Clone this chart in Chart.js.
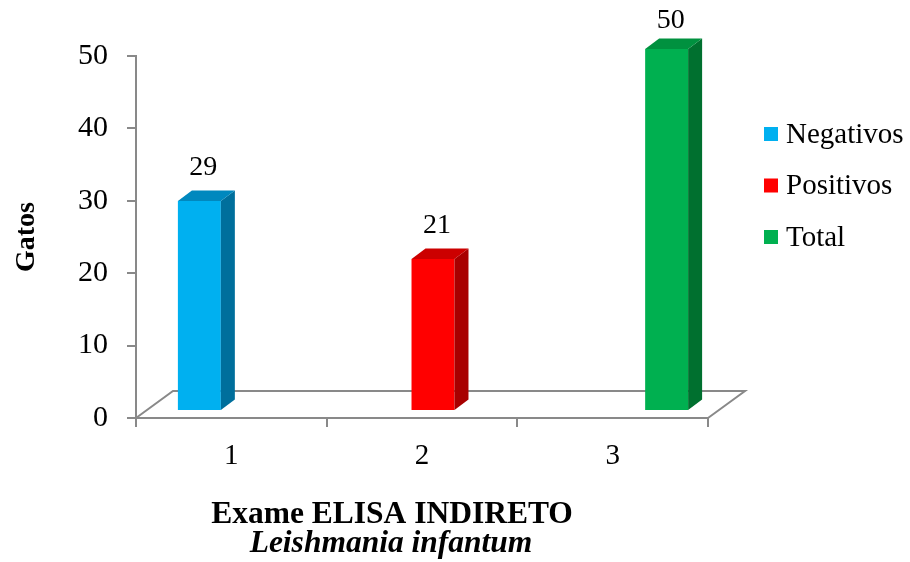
<!DOCTYPE html>
<html>
<head>
<meta charset="utf-8">
<script src="https://cdn.jsdelivr.net/npm/chart.js@4/dist/chart.umd.min.js"></script>
<style>
  html, body { margin: 0; padding: 0; background: #ffffff; }
  #wrap { width: 910px; height: 562px; }
</style>
</head>
<body>
<div id="wrap"><canvas id="chart" width="910" height="562"></canvas></div>
<script>
// ---- data ----
const categories = ['1', '2', '3'];
const seriesNames = ['Negativos', 'Positivos', 'Total'];
const negativos = [29, null, null];
const positivos = [null, 21, null];
const total = [null, null, 50];
const yTicks = [0, 10, 20, 30, 40, 50];
const xTitleLine1 = 'Exame ELISA INDIRETO';
const xTitleLine2 = 'Leishmania infantum';
const yTitle = 'Gatos';

// ---- styling ----
const SERIF = "'Liberation Serif', 'Times New Roman', serif";
const AXIS_GREY = '#898989';
const faceColors = [
  { front: '#00B0F0', side: '#006F9C', top: '#0088BE' },
  { front: '#FF0000', side: '#A80000', top: '#CC0000' },
  { front: '#00B050', side: '#00702F', top: '#00913F' }
];
const BAR_SHIFT = { x: 11, y: -7 };      // bars stand a little behind the front edge of the floor
const BAR_DEPTH = { x: 14, y: -10.5 };   // extrusion of each column
const FLOOR_DEPTH = { x: 37, y: -27 };   // receding floor outline

const seriesValues = [negativos, positivos, total];

const threeD = {
  id: 'threeD',
  beforeDatasetsDraw(chart) {
    const { ctx, chartArea: a } = chart;
    // floor outline (front edge is the x axis border)
    ctx.save();
    ctx.strokeStyle = AXIS_GREY;
    ctx.lineWidth = 2;
    ctx.beginPath();
    ctx.moveTo(a.left, a.bottom);
    ctx.lineTo(a.left + FLOOR_DEPTH.x, a.bottom + FLOOR_DEPTH.y);
    ctx.lineTo(a.right + FLOOR_DEPTH.x, a.bottom + FLOOR_DEPTH.y);
    ctx.lineTo(a.right, a.bottom);
    ctx.stroke();
    ctx.restore();
    ctx.save();
    ctx.translate(BAR_SHIFT.x, BAR_SHIFT.y);
  },
  afterDatasetsDraw(chart) {
    const { ctx } = chart;
    chart.data.datasets.forEach((ds, di) => {
      const meta = chart.getDatasetMeta(di);
      const col = faceColors[di];
      meta.data.forEach((el, i) => {
        const v = ds.data[i];
        if (v === null || v === undefined) return;
        const p = el.getProps(['x', 'y', 'base', 'width'], true);
        const l = p.x - p.width / 2, r = p.x + p.width / 2;
        const t = p.y, b = p.base;
        // side face
        ctx.fillStyle = col.side;
        ctx.beginPath();
        ctx.moveTo(r, t);
        ctx.lineTo(r + BAR_DEPTH.x, t + BAR_DEPTH.y);
        ctx.lineTo(r + BAR_DEPTH.x, b + BAR_DEPTH.y);
        ctx.lineTo(r, b);
        ctx.closePath();
        ctx.fill();
        // top face
        ctx.fillStyle = col.top;
        ctx.beginPath();
        ctx.moveTo(l, t);
        ctx.lineTo(l + BAR_DEPTH.x, t + BAR_DEPTH.y);
        ctx.lineTo(r + BAR_DEPTH.x, t + BAR_DEPTH.y);
        ctx.lineTo(r, t);
        ctx.closePath();
        ctx.fill();
        // value label
        ctx.fillStyle = '#000';
        ctx.font = '28px ' + SERIF;
        ctx.textAlign = 'center';
        ctx.textBaseline = 'middle';
        const ly = Math.max(t + BAR_DEPTH.y - 23, 28);
        ctx.fillText(String(v), p.x + 4, ly);
      });
    });
    ctx.restore();
  }
};

const sideLegend = {
  id: 'sideLegend',
  afterDraw(chart) {
    const { ctx, chartArea: a } = chart;
    ctx.save();
    ctx.font = '29px ' + SERIF;
    ctx.textAlign = 'left';
    ctx.textBaseline = 'middle';
    chart.data.datasets.forEach((ds, i) => {
      const y = a.top + 78 + i * 51.5;
      const x = a.right + 56;
      ctx.fillStyle = ds.backgroundColor;
      ctx.fillRect(x, y - 7, 14, 14);
      ctx.fillStyle = '#000';
      ctx.fillText(ds.label, x + 22, y + 1);
    });
    ctx.restore();
  }
};

const bottomTitle = {
  id: 'bottomTitle',
  afterDraw(chart) {
    const { ctx } = chart;
    ctx.save();
    ctx.fillStyle = '#000';
    ctx.textAlign = 'center';
    ctx.textBaseline = 'alphabetic';
    ctx.font = 'bold 31.5px ' + SERIF;
    ctx.fillText(xTitleLine1, 392, 523);
    ctx.font = 'italic bold 31.5px ' + SERIF;
    ctx.fillText(xTitleLine2, 391, 552);
    ctx.restore();
  }
};

new Chart(document.getElementById('chart'), {
  type: 'bar',
  data: {
    labels: categories,
    datasets: seriesValues.map((vals, i) => ({
      label: seriesNames[i],
      data: vals,
      backgroundColor: faceColors[i].front,
      borderWidth: 0,
      clip: false,
      categoryPercentage: 0.676,
      barPercentage: 1.0
    }))
  },
  options: {
    responsive: false,
    animation: false,
    devicePixelRatio: 1,
    layout: { padding: { left: 0, top: 56, right: 202, bottom: 0 } },
    plugins: {
      legend: { display: false },
      tooltip: { enabled: false }
    },
    scales: {
      x: {
        type: 'category',
        grid: { offset: true, drawOnChartArea: false, drawTicks: true, tickLength: 9, color: AXIS_GREY, lineWidth: 2 },
        border: { display: true, color: AXIS_GREY, width: 2 },
        ticks: { color: '#000', padding: 12, font: { family: SERIF, size: 29 } },
        afterFit(scale) { scale.height = 144; }
      },
      y: {
        min: 0,
        max: 50,
        grid: { drawOnChartArea: false, drawTicks: true, tickLength: 9, color: AXIS_GREY, lineWidth: 2 },
        border: { display: true, color: AXIS_GREY, width: 2 },
        ticks: { color: '#000', padding: 19, font: { family: SERIF, size: 30 } },
        afterBuildTicks(scale) { scale.ticks = yTicks.map(v => ({ value: v })); },
        title: {
          display: true,
          text: yTitle,
          color: '#000',
          font: { family: SERIF, size: 28, weight: 'bold' },
          padding: { top: 10, bottom: 0 }
        },
        afterFit(scale) { scale.width = 136; }
      }
    }
  },
  plugins: [threeD, sideLegend, bottomTitle]
});
</script>
</body>
</html>
